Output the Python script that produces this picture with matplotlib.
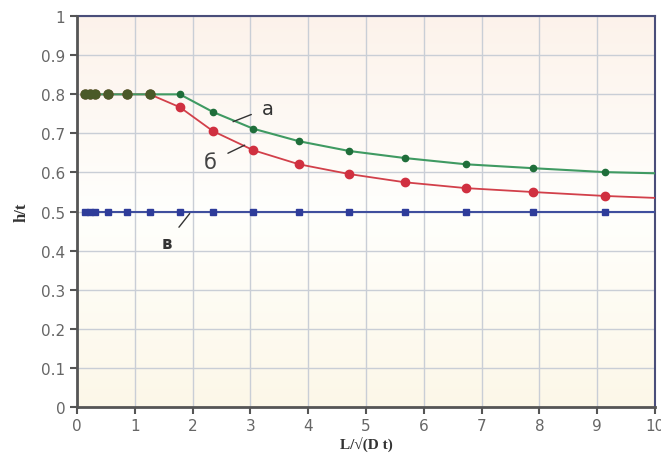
import numpy as np
import matplotlib
matplotlib.use("Agg")
import matplotlib.pyplot as plt

# Data
x_pts = [0.14, 0.22, 0.31, 0.54, 0.87, 1.26, 1.78, 2.35, 3.05, 3.84, 4.71, 5.67, 6.73, 7.89, 9.13]
h_a = [0.8, 0.8, 0.8, 0.8, 0.8, 0.8, 0.8, 0.755, 0.712, 0.680, 0.655, 0.637, 0.621, 0.611, 0.601]
h_b = [0.8, 0.8, 0.8, 0.8, 0.8, 0.8, 0.767, 0.706, 0.657, 0.621, 0.596, 0.575, 0.560, 0.550, 0.540]
h_v = [0.5] * len(x_pts)
# curve continuation to the right edge (line only)
x_end = 10
a_end = 0.598
b_end = 0.535
v_end = 0.5

fig = plt.figure(figsize=(6.61, 4.64), dpi=100)
ax = fig.add_axes([0.1165, 0.1207, 0.8745, 0.8423])

# soft vertical background gradient (row 0 = top)
grad = np.array([0.0, 0.5, 1.0])
cols = np.array([[0.99, 0.95, 0.92], [1.0, 1.0, 0.99], [0.99, 0.97, 0.91]])
ys = np.linspace(0, 1, 200)
img = np.stack([np.interp(ys, grad, cols[:, c]) for c in range(3)], axis=-1)
ax.imshow(img[:, None, :], extent=[0, 10, 0, 1], aspect='auto', zorder=0)

ax.set_xlim(0, 10)
ax.set_ylim(0, 1)
ax.set_xticks(range(0, 11))
ax.set_yticks(np.round(np.arange(0, 1.01, 0.1), 1))
ax.set_yticklabels(['0'] + [f'{v:.1f}' for v in np.arange(0.1, 0.95, 0.1)] + ['1'])
ax.grid(True, color='#c9ced6', linewidth=1.0, zorder=1)

green = '#3f9a62'
red = '#d2404a'
blue = '#3f4f9e'

ax.plot(x_pts + [x_end], h_v + [v_end], color=blue, lw=1.5, zorder=3)
ax.plot(x_pts, h_v, ls='none', marker='s', ms=4.5, color='#2e3c9a', zorder=4)
ax.plot(x_pts + [x_end], h_b + [b_end], color=red, lw=1.3, zorder=3)
ax.plot(x_pts, h_b, ls='none', marker='o', ms=6, color='#d03040', zorder=4)
ax.plot(x_pts + [x_end], h_a + [a_end], color=green, lw=1.5, zorder=3)
ax.plot(x_pts, h_a, ls='none', marker='o', ms=4.5, color='#1f6e3a', zorder=5)
# overlapping points on the plateau look olive/dark
ax.plot(x_pts[:6], h_a[:6], ls='none', marker='o', ms=6.5, color='#4a5a28', zorder=6)

# curve labels with leader lines
ax.annotate('а', xy=(2.7, 0.73), xytext=(3.3, 0.765), fontsize=14, color='#333333',
            va='center', ha='center',
            arrowprops=dict(arrowstyle='-', color='#333333', lw=1.0, shrinkB=0, shrinkA=6))
ax.annotate('б', xy=(2.9, 0.67), xytext=(2.3, 0.627), fontsize=15, color='#444444',
            va='center', ha='center',
            arrowprops=dict(arrowstyle='-', color='#333333', lw=1.0, shrinkB=0, shrinkA=7))
ax.annotate('в', xy=(1.95, 0.495), xytext=(1.55, 0.42), fontsize=12, color='#333333',
            fontweight='bold', va='center', ha='center',
            arrowprops=dict(arrowstyle='-', color='#333333', lw=1.0, shrinkB=0, shrinkA=5))

for s in ['left', 'bottom']:
    ax.spines[s].set_color('#555555')
    ax.spines[s].set_linewidth(2.0)
for s in ['top', 'right']:
    ax.spines[s].set_color('#4a4e7a')
    ax.spines[s].set_linewidth(1.5)
ax.spines['left'].set_zorder(7)
ax.spines['bottom'].set_zorder(7)

ax.tick_params(direction='out', length=5, width=1.5, color='#555555',
               labelsize=11, labelcolor='#666666')
ax.tick_params(axis='x', pad=3)

ax.set_xlabel('L/√(D t)', fontsize=11, fontweight='bold', family='Liberation Serif',
              color='#333333', labelpad=2)
ax.set_ylabel('h/t', fontsize=12, fontweight='bold', family='Liberation Serif',
              color='#333333', labelpad=8)

fig.savefig('out.png', dpi=100)
